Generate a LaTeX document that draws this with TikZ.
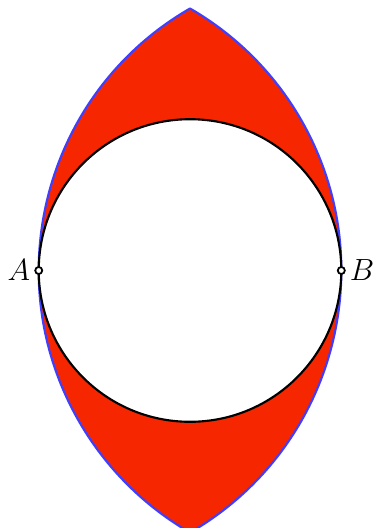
\documentclass[tikz,border=0pt]{standalone}
\definecolor{lensred}{HTML}{F52600}
\definecolor{lensblue}{HTML}{3F3FFF}
\usetikzlibrary{positioning}
\tikzset{
    lensregion/.style={
        fill=lensred,
        draw=lensblue,
        line width=1.2pt,
        line join=round
    },
    innercircle/.style={
        fill=white,
        draw=black,
        line width=1.2pt
    },
    endpoint/.style={
        circle,
        fill=white,
        draw=black,
        line width=1pt,
        inner sep=0pt,
        minimum size=1.4mm
    },
    pointlabel/.style={
        font=\fontsize{16}{18}\selectfont,
        inner sep=1pt
    }
}

\begin{document}
\begin{tikzpicture}
        \useasboundingbox (-3.768,-5.106) rectangle (3.609,5.364);

        \coordinate (O) at (0,0);
        \coordinate (A) at (-3,0);
        \coordinate (B) at (3,0);
        \coordinate (top) at (0,5.196);

        % lens: arcs round B and A with radius AB
        \path[lensregion] (top)
            arc[start angle=120,end angle=240,radius=6]
            arc[start angle=-60,end angle=60,radius=6] -- cycle;

        \path[innercircle] (O) circle (3);

        \node[endpoint] (pA) at (A) {};
        \node[endpoint] (pB) at (B) {};
        \node[pointlabel,left=0.4mm of pA] (labelA) {$A$};
        \node[pointlabel,right=0.4mm of pB] (labelB) {$B$};
    \end{tikzpicture}
\end{document}
